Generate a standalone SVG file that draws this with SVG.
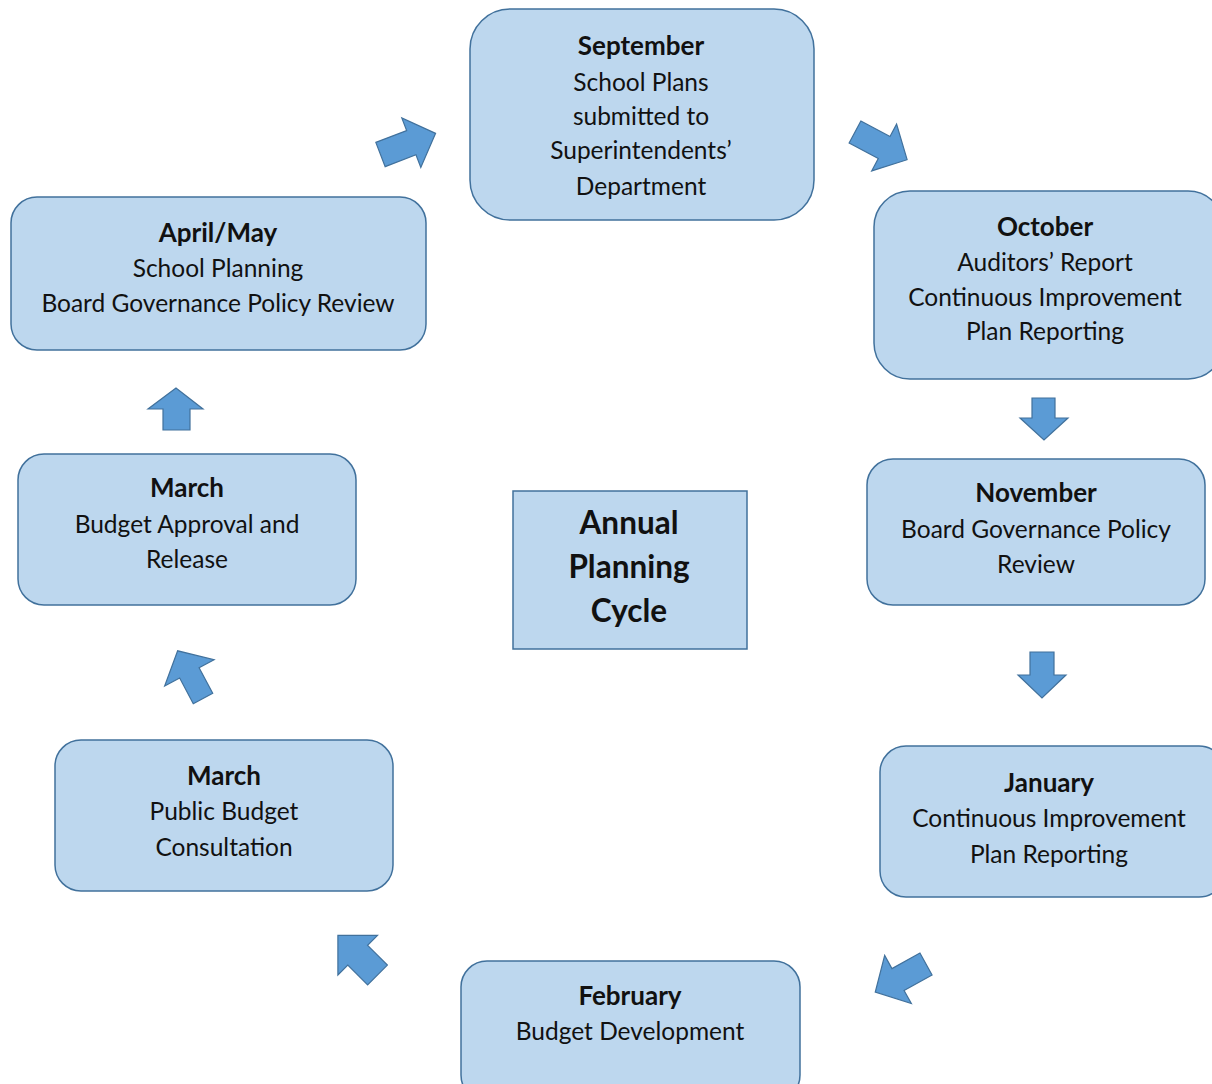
<svg xmlns="http://www.w3.org/2000/svg" width="1212" height="1084" viewBox="0 0 1212 1084">
<style>
.box{fill:#bdd7ee;stroke:#41719c;stroke-width:1.5}
.arr{fill:#5b9bd5;stroke:#41719c;stroke-width:1.2}
text{font-family:Lato,"Open Sans",sans-serif;font-size:24.5px;fill:#111;text-anchor:middle}
.h{font-weight:bold;font-size:26px}
.t{font-weight:bold;font-size:31.5px}
</style>
<rect width="1212" height="1084" fill="#fff"/>
<g id="connectors">
<polygon class="arr" transform="translate(380.5,154.5) rotate(-21)" points="0,-13 33,-13 33,-26.5 59,0 33,26.5 33,13 0,13"/>
<polygon class="arr" transform="translate(855,132) rotate(28)" points="0,-12.5 33,-12.5 33,-26.5 59,0 33,26.5 33,12.5 0,12.5"/>
<polygon class="arr" points="1032,398 1055,398 1055,418 1068,418 1044,440 1020,418 1032,418"/>
<polygon class="arr" points="1030,652 1054,652 1054,675 1066,675 1042,698 1018,675 1030,675"/>
<polygon class="arr" transform="translate(926,964) rotate(151)" points="0,-12.5 32,-12.5 32,-27.5 58,0 32,27.5 32,12.5 0,12.5"/>
<polygon class="arr" transform="translate(377.5,975) rotate(-135)" points="0,-14 28,-14 28,-28 56,0 28,28 28,14 0,14"/>
<polygon class="arr" transform="translate(203,698.5) rotate(-118)" points="0,-11 29,-11 29,-28 54,0 29,28 29,11 0,11"/>
<polygon class="arr" points="163,430 190,430 190,409 203,409 176,388 148,409 163,409"/>
</g>
<g id="september">
<rect class="box" x="470" y="9" width="344" height="211" rx="40"/>
<text x="641" y="55" class="h">September</text>
<text x="641" y="91">School Plans</text>
<text x="641" y="125">submitted to</text>
<text x="641" y="159">Superintendents’</text>
<text x="641" y="195">Department</text>
</g>
<g id="october">
<rect class="box" x="874" y="191" width="350" height="188" rx="36"/>
<text x="1045" y="236" class="h">October</text>
<text x="1045" y="271">Auditors’ Report</text>
<text x="1045" y="306">Continuous Improvement</text>
<text x="1045" y="340">Plan Reporting</text>
</g>
<g id="november">
<rect class="box" x="867" y="459" width="338" height="146" rx="26"/>
<text x="1036" y="502" class="h">November</text>
<text x="1036" y="538">Board Governance Policy</text>
<text x="1036" y="573">Review</text>
</g>
<g id="january">
<rect class="box" x="880" y="746" width="345" height="151" rx="26"/>
<text x="1049" y="792" class="h">January</text>
<text x="1049" y="827">Continuous Improvement</text>
<text x="1049" y="863">Plan Reporting</text>
</g>
<g id="february">
<rect class="box" x="461" y="961" width="339" height="140" rx="26"/>
<text x="630" y="1005" class="h">February</text>
<text x="630" y="1040">Budget Development</text>
</g>
<g id="march-consultation">
<rect class="box" x="55" y="740" width="338" height="151" rx="26"/>
<text x="224" y="785" class="h">March</text>
<text x="224" y="820">Public Budget</text>
<text x="224" y="856">Consultation</text>
</g>
<g id="march-approval">
<rect class="box" x="18" y="454" width="338" height="151" rx="26"/>
<text x="187" y="497" class="h">March</text>
<text x="187" y="533">Budget Approval and</text>
<text x="187" y="568">Release</text>
</g>
<g id="april-may">
<rect class="box" x="11" y="197" width="415" height="153" rx="26"/>
<text x="218" y="242" class="h">April/May</text>
<text x="218" y="277">School Planning</text>
<text x="218" y="312">Board Governance Policy Review</text>
</g>
<g id="center">
<rect class="box" x="513" y="491" width="234" height="158"/>
<text x="629" y="534" class="t">Annual</text>
<text x="629" y="578" class="t">Planning</text>
<text x="629" y="622" class="t">Cycle</text>
</g>
</svg>
